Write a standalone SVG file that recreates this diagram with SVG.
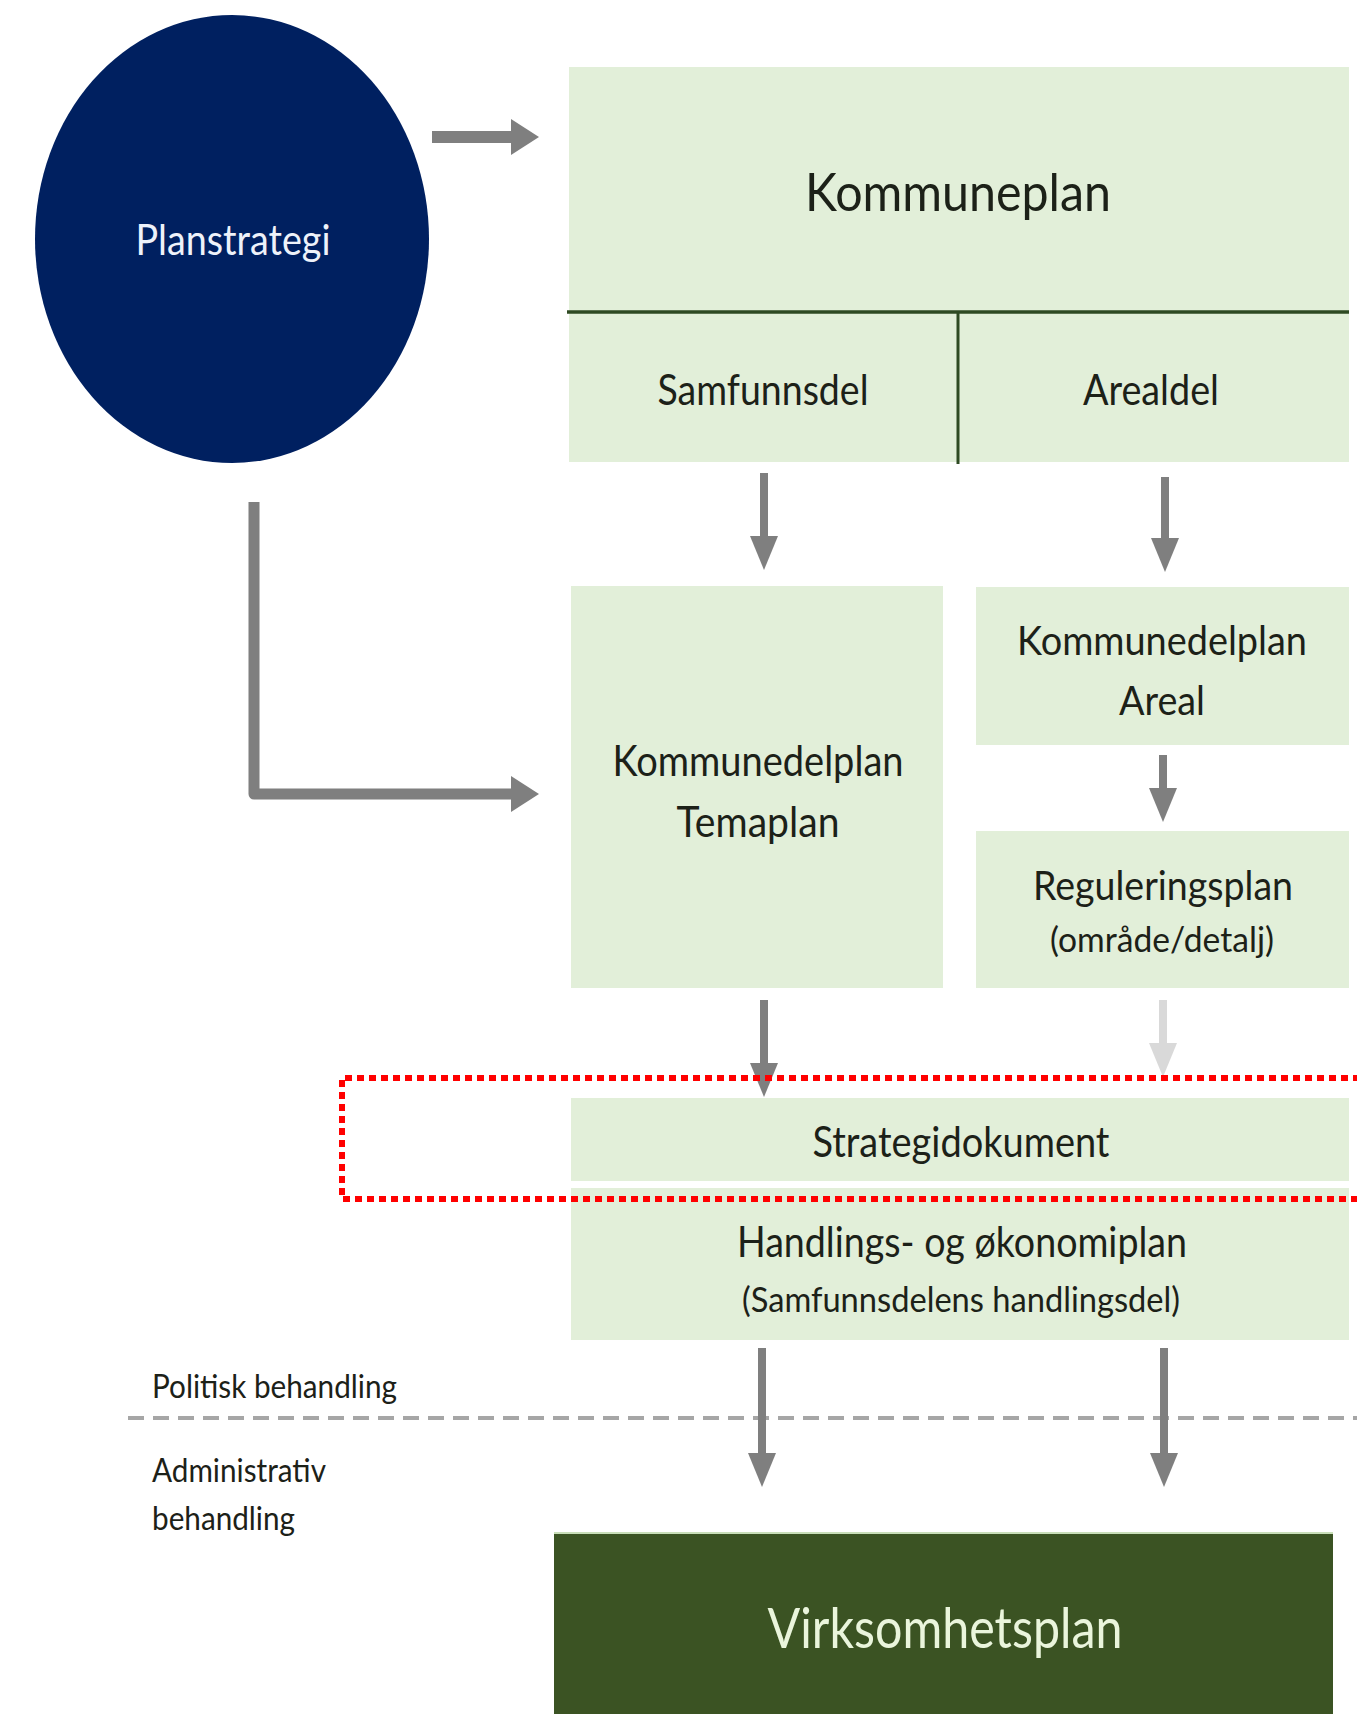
<svg xmlns="http://www.w3.org/2000/svg" width="1357" height="1714" viewBox="0 0 1357 1714">
<style>
.box{fill:#e2efd9}
.t{font-family:Lato,"Open Sans","Liberation Sans",sans-serif;fill:#1c2118;text-anchor:middle}
.tl{font-family:Lato,"Open Sans","Liberation Sans",sans-serif;fill:#1c2118}
.ar{stroke:#7f7f7f;stroke-width:8;fill:none}
.arb{stroke:#7f7f7f;stroke-width:11;fill:none}
</style>
<defs>
<marker id="ah" viewBox="0 0 34 28" refX="2" refY="14" markerWidth="34" markerHeight="28" orient="auto" markerUnits="userSpaceOnUse"><path d="M0,0 L34,14 L0,28 z" fill="#7f7f7f"/></marker>
<marker id="ahl" viewBox="0 0 34 28" refX="2" refY="14" markerWidth="34" markerHeight="28" orient="auto" markerUnits="userSpaceOnUse"><path d="M0,0 L34,14 L0,28 z" fill="#d9d9d9"/></marker>
<marker id="ahb" viewBox="0 0 28 36" refX="2" refY="18" markerWidth="28" markerHeight="36" orient="auto" markerUnits="userSpaceOnUse"><path d="M0,0 L28,18 L0,36 z" fill="#7f7f7f"/></marker>
</defs>
<rect width="1357" height="1714" fill="#ffffff"/>

<g id="planstrategi">
<ellipse cx="232" cy="239" rx="197" ry="224" fill="#002060"/>
<text class="t" x="233" y="255" font-size="43" style="fill:#eef2fa" textLength="195" lengthAdjust="spacingAndGlyphs">Planstrategi</text>
</g>

<g id="kommuneplan">
<rect class="box" x="569" y="67" width="780" height="395"/>
<text class="t" x="958" y="211" font-size="53" textLength="306" lengthAdjust="spacingAndGlyphs">Kommuneplan</text>
<line x1="567" y1="312" x2="1349" y2="312" stroke="#2e4a22" stroke-width="3.5"/>
<line x1="958" y1="312" x2="958" y2="464" stroke="#2e4a22" stroke-width="3"/>
</g>
<g id="samfunnsdel">
<text class="t" x="763" y="405" font-size="42" textLength="211" lengthAdjust="spacingAndGlyphs">Samfunnsdel</text>
</g>
<g id="arealdel">
<text class="t" x="1151" y="405" font-size="42" textLength="136" lengthAdjust="spacingAndGlyphs">Arealdel</text>
</g>

<g id="temaplan">
<rect class="box" x="571" y="586" width="372" height="402"/>
<text class="t" x="758" y="776" font-size="43" textLength="291" lengthAdjust="spacingAndGlyphs">Kommunedelplan</text>
<text class="t" x="758" y="837" font-size="43" textLength="163" lengthAdjust="spacingAndGlyphs">Temaplan</text>
</g>

<g id="kdp-areal">
<rect class="box" x="976" y="587" width="373" height="158"/>
<text class="t" x="1162" y="655" font-size="40" textLength="290" lengthAdjust="spacingAndGlyphs">Kommunedelplan</text>
<text class="t" x="1162" y="715" font-size="40" textLength="86" lengthAdjust="spacingAndGlyphs">Areal</text>
</g>

<g id="reguleringsplan">
<rect class="box" x="976" y="831" width="373" height="157"/>
<text class="t" x="1163" y="900" font-size="40" textLength="260" lengthAdjust="spacingAndGlyphs">Reguleringsplan</text>
<text class="t" x="1162" y="952" font-size="34" textLength="224" lengthAdjust="spacingAndGlyphs">(område/detalj)</text>
</g>

<g id="strategidokument">
<rect class="box" x="571" y="1098" width="778" height="83"/>
<text class="t" x="961" y="1157" font-size="42" textLength="297" lengthAdjust="spacingAndGlyphs">Strategidokument</text>
</g>

<g id="handlingsplan">
<rect class="box" x="571" y="1188" width="778" height="152"/>
<text class="t" x="962" y="1257" font-size="42" textLength="450" lengthAdjust="spacingAndGlyphs">Handlings- og økonomiplan</text>
<text class="t" x="961" y="1312" font-size="34" textLength="438" lengthAdjust="spacingAndGlyphs">(Samfunnsdelens handlingsdel)</text>
</g>

<g id="labels">
<text class="tl" x="152" y="1398" font-size="32" textLength="245" lengthAdjust="spacingAndGlyphs">Politisk behandling</text>
<text class="tl" x="152" y="1482" font-size="32" textLength="174" lengthAdjust="spacingAndGlyphs">Administrativ</text>
<text class="tl" x="152" y="1530" font-size="32" textLength="143" lengthAdjust="spacingAndGlyphs">behandling</text>
</g>

<g id="virksomhetsplan">
<rect x="554" y="1532" width="779" height="182" fill="#3b5323"/>
<line x1="554" y1="1533" x2="1333" y2="1533" stroke="#c9dfb9" stroke-width="2"/>
<text class="t" x="945" y="1648" font-size="57" style="fill:#eaf5dc" textLength="355" lengthAdjust="spacingAndGlyphs">Virksomhetsplan</text>
</g>

<g id="connectors">
<line x1="128" y1="1418" x2="1357" y2="1418" stroke="#a6a6a6" stroke-width="4" stroke-dasharray="16 9"/>
<line class="arb" x1="432" y1="137" x2="513" y2="137" style="stroke-width:12" marker-end="url(#ahb)"/>
<path class="arb" d="M254,502 V794 H513" stroke-linejoin="round" marker-end="url(#ahb)"/>
<line class="ar" x1="764" y1="473" x2="764" y2="538" marker-end="url(#ah)"/>
<line class="ar" x1="1165" y1="477" x2="1165" y2="540" marker-end="url(#ah)"/>
<line class="ar" x1="1163" y1="755" x2="1163" y2="790" marker-end="url(#ah)"/>
<line class="ar" x1="764" y1="1000" x2="764" y2="1065" marker-end="url(#ah)"/>
<line x1="1163" y1="1000" x2="1163" y2="1045" stroke="#d9d9d9" stroke-width="8" marker-end="url(#ahl)"/>
<line class="ar" x1="762" y1="1348" x2="762" y2="1455" marker-end="url(#ah)"/>
<line class="ar" x1="1164" y1="1348" x2="1164" y2="1455" marker-end="url(#ah)"/>
<path d="M1360,1078 H342 V1199 H1360" fill="none" stroke="#ff0000" stroke-width="6" stroke-dasharray="7 5"/>
</g>
</svg>
